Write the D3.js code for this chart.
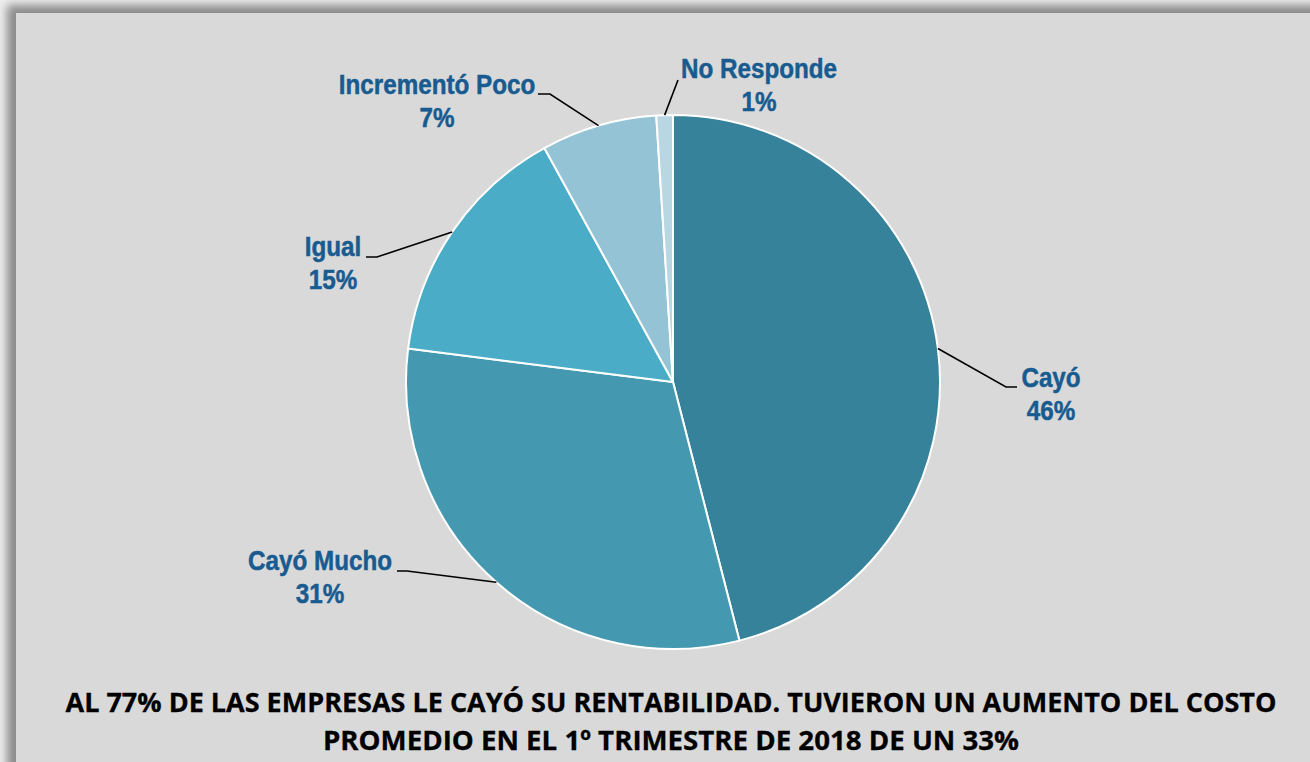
<!DOCTYPE html>
<html><head><meta charset="utf-8">
<script src="https://cdn.jsdelivr.net/npm/d3@7"></script>
<style>html,body{margin:0;padding:0;background:#ececec;overflow:hidden}</style>
</head><body>
<svg id="chart" width="1310" height="762"></svg>
<script>
// ---- data ----
const categories = ["Cayó", "Cayó Mucho", "Igual", "Incrementó Poco", "No Responde"];
const values = [46, 31, 15, 7, 1];
const valueLabels = ["46%", "31%", "15%", "7%", "1%"];
const colors = ["#36829a", "#4499b1", "#4aacc6", "#93c3d5", "#b9d7e3"];
const titleLines = [
  "AL 77% DE LAS EMPRESAS LE CAYÓ SU RENTABILIDAD. TUVIERON UN AUMENTO DEL COSTO",
  "PROMEDIO EN EL 1º TRIMESTRE DE 2018 DE UN 33%"
];

// ---- layout (label placement) ----
const labelLayout = [
  {cx: 1051, y: 387, elbow: [[1006, 387], [1017, 387]]},
  {cx: 320,  y: 570, elbow: [[407, 571], [397, 571]]},
  {cx: 333,  y: 256, elbow: [[377, 257], [366, 257]]},
  {cx: 437,  y: 94,  elbow: [[550, 94], [538, 94]]},
  {cx: 759,  y: 78,  elbow: [[678, 80]]}
];

const svg = d3.select("#chart");
const defs = svg.append("defs");
defs.append("filter").attr("id", "sh").attr("x", "-10%").attr("y", "-10%").attr("width", "120%").attr("height", "120%")
  .append("feGaussianBlur").attr("stdDeviation", 5);

svg.append("rect").attr("x", 0).attr("y", 0).attr("width", 1310).attr("height", 762).attr("fill", "#eeeeee");
svg.append("rect").attr("x", 7).attr("y", 5).attr("width", 1400).attr("height", 900)
  .attr("fill", "#8a8a8a").attr("filter", "url(#sh)");
svg.append("rect").attr("x", 16).attr("y", 13).attr("width", 1400).attr("height", 900).attr("fill", "#d9d9d9");

const cx = 673, cy = 382, r = 267;
const pie = d3.pie().sort(null).value(d => d)(values);
const arc = d3.arc().innerRadius(0).outerRadius(r);
const g = svg.append("g").attr("transform", `translate(${cx},${cy})`);
g.selectAll("path.slice").data(pie).join("path")
  .attr("class", "slice")
  .attr("d", arc)
  .attr("fill", (d, i) => colors[i])
  .attr("stroke", "#ffffff").attr("stroke-width", 2).attr("stroke-linejoin", "round");

// leader lines
const line = d3.line();
pie.forEach((d, i) => {
  const a = (d.startAngle + d.endAngle) / 2;
  const p0 = [cx + r * Math.sin(a), cy - r * Math.cos(a)];
  const pts = [p0, ...labelLayout[i].elbow];
  svg.append("path").attr("d", line(pts)).attr("fill", "none")
    .attr("stroke", "#000").attr("stroke-width", 1.6);
});

// labels
const labelFont = "'Liberation Sans', Arial, sans-serif";
categories.forEach((c, i) => {
  const L = labelLayout[i];
  [c, valueLabels[i]].forEach((t, k) => {
    svg.append("text")
      .attr("transform", `translate(${L.cx},${L.y + k * 33}) scale(0.85,1)`)
      .attr("text-anchor", "middle")
      .attr("font-family", labelFont)
      .attr("font-weight", "bold")
      .attr("font-size", 28.5)
      .attr("fill", "#185b90")
      .attr("stroke", "#185b90")
      .attr("stroke-width", 0.5)
      .text(t);
  });
});

// title
const titleLens = [1211, 696];
titleLines.forEach((t, k) => {
  svg.append("text")
    .attr("x", 671).attr("y", 712 + k * 38)
    .attr("text-anchor", "middle")
    .attr("font-family", "'Open Sans', sans-serif")
    .attr("font-weight", "bold")
    .attr("font-size", 27)
    .attr("fill", "#000")
    .attr("stroke", "#000")
    .attr("stroke-width", 0.3)
    .attr("textLength", titleLens[k])
    .attr("lengthAdjust", "spacingAndGlyphs")
    .text(t);
});
</script>
</body></html>
